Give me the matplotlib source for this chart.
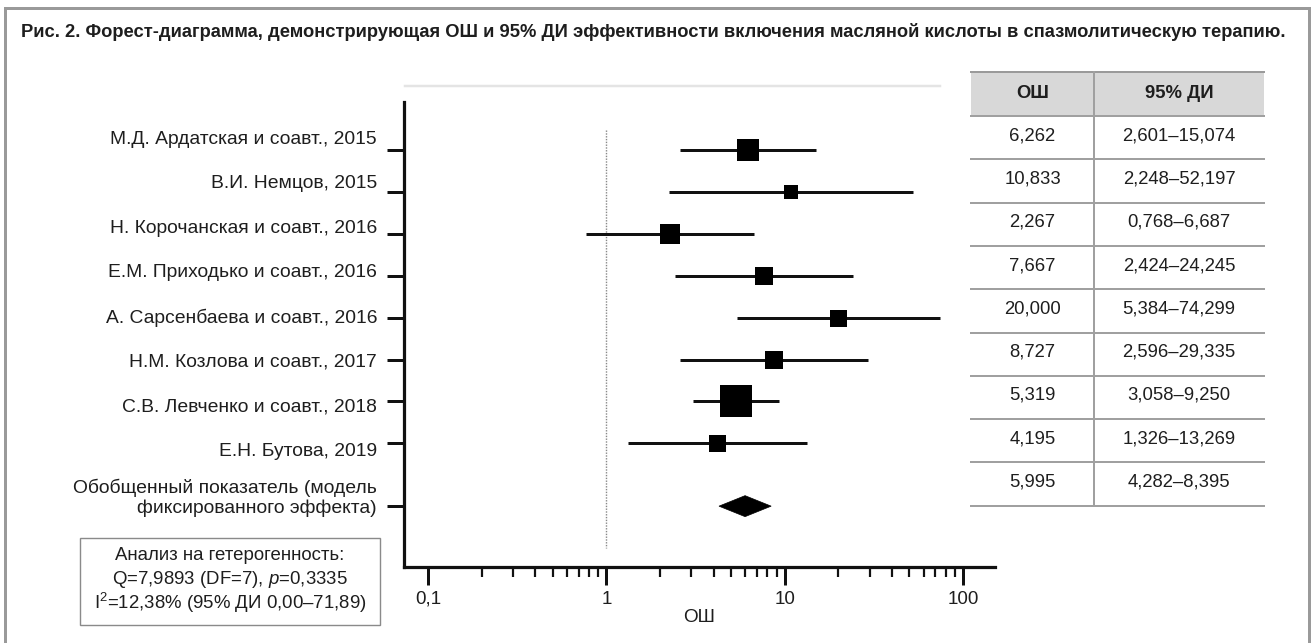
import matplotlib
matplotlib.use("Agg")
import matplotlib.pyplot as plt
import numpy as np
from matplotlib.patches import Rectangle, Polygon
from matplotlib.lines import Line2D
from matplotlib.ticker import NullFormatter, FixedLocator, FixedFormatter

plt.rcParams['font.family'] = ['Liberation Sans', 'DejaVu Sans']
plt.rcParams['mathtext.fontset'] = 'custom'
plt.rcParams['mathtext.rm'] = 'Liberation Sans'
plt.rcParams['mathtext.it'] = 'Liberation Sans:italic'

# ---------------- data ----------------
title = ("Рис. 2. Форест-диаграмма, демонстрирующая ОШ и 95% ДИ эффективности "
         "включения масляной кислоты в спазмолитическую терапию.")
studies = [
    "М.Д. Ардатская и соавт., 2015",
    "В.И. Немцов, 2015",
    "Н. Корочанская и соавт., 2016",
    "Е.М. Приходько и соавт., 2016",
    "А. Сарсенбаева и соавт., 2016",
    "Н.М. Козлова и соавт., 2017",
    "С.В. Левченко и соавт., 2018",
    "Е.Н. Бутова, 2019",
]
pooled_label = "Обобщенный показатель (модель\nфиксированного эффекта)"
or_values = [6.262, 10.833, 2.267, 7.667, 20.000, 8.727, 5.319, 4.195]
ci_low = [2.601, 2.248, 0.768, 2.424, 5.384, 2.596, 3.058, 1.326]
ci_high = [15.074, 52.197, 6.687, 24.245, 74.299, 29.335, 9.250, 13.269]
pooled_or = 5.995
pooled_low = 4.282
pooled_high = 8.395
weight_box_px = [23, 14, 20, 18, 17, 18, 32, 17]   # square side (study weight)
x_ticks = [0.1, 1, 10, 100]
x_tick_labels = ["0,1", "1", "10", "100"]
x_label = "ОШ"
table_headers = ["ОШ", "95% ДИ"]
het_lines = ["Анализ на гетерогенность:",
             "Q=7,9893 (DF=7), $p$=0,3335",
             "I$^{2}$=12,38% (95% ДИ 0,00–71,89)"]

# ---------------- layout ----------------
W, H = 1312, 643
DPI = 100
PT = 72.0 / DPI  # points per pixel
fig = plt.figure(figsize=(W / DPI, H / DPI), dpi=DPI)
fig.patch.set_facecolor("white")

def fx(px):
    return px / W

def fy(py):
    return 1 - py / H

TXT = "#1e1e1e"
LINE = "#111111"
FS_LAB = 13.9
FS_TAB = 13.3
FS_TICK = 13.6

# outer frame
fig.patches.append(Rectangle((fx(5), fy(660)), fx(1309) - fx(5), fy(8) - fy(660),
                             transform=fig.transFigure, fill=False,
                             edgecolor="#9a9a9a", linewidth=3 * PT, zorder=0))

fig.text(fx(21), fy(32), title, fontsize=13.25, fontweight="bold", color=TXT,
         ha="left", va="center")

# light top line above plot
fig.add_artist(Line2D([fx(405), fx(940)], [fy(86), fy(86)], transform=fig.transFigure,
                      color="#e4e4e4", linewidth=2.5 * PT))

# main axes
ax_l, ax_r, ax_t, ax_b = 404, 995, 102, 567
ax = fig.add_axes([fx(ax_l), fy(ax_b), fx(ax_r) - fx(ax_l), fy(ax_t) - fy(ax_b)])
ax.set_xscale("log")
ax.set_xlim(0.0734, 151)
row_px = 41.9
first_row_px = 150
ax.set_ylim((ax_b - first_row_px) / row_px, (ax_t - first_row_px) / row_px)

n = len(studies)
rows = np.arange(n)
pooled_row = n + 0.5

for sp in ["top", "right"]:
    ax.spines[sp].set_visible(False)
for sp in ["left", "bottom"]:
    ax.spines[sp].set_linewidth(3.2 * PT)
    ax.spines[sp].set_color(LINE)

# reference line at OR = 1
ax.plot([1, 1], [(130 - first_row_px) / row_px, (548 - first_row_px) / row_px],
        color="#888888", linewidth=1.4 * PT, linestyle=(0, (1, 1)), zorder=1)

for i in range(n):
    ax.plot([ci_low[i], ci_high[i]], [rows[i], rows[i]], color=LINE,
            linewidth=3 * PT, solid_capstyle="butt", zorder=2)
    ax.plot([or_values[i]], [rows[i]], marker="s", color="black",
            markersize=weight_box_px[i] * PT, markeredgewidth=0, zorder=3)

dh = 10.5 / row_px
ax.add_patch(Polygon([[pooled_low, pooled_row], [pooled_or, pooled_row - dh],
                      [pooled_high, pooled_row], [pooled_or, pooled_row + dh]],
                     closed=True, facecolor="black", edgecolor="black", linewidth=0.5))

# ticks
ax.set_yticks(list(rows) + [pooled_row])
ax.set_yticklabels([])
ax.tick_params(axis="y", direction="out", length=17 * PT, width=3 * PT, color=LINE)
ax.xaxis.set_major_locator(FixedLocator(x_ticks))
ax.xaxis.set_major_formatter(FixedFormatter(x_tick_labels))
minor = [m * d for d in x_ticks[:-1] for m in range(2, 10)]
ax.xaxis.set_minor_locator(FixedLocator(minor))
ax.xaxis.set_minor_formatter(NullFormatter())
ax.tick_params(axis="x", which="major", direction="out", length=18 * PT, width=3 * PT,
               color=LINE, labelsize=FS_TICK, labelcolor=TXT, pad=4)
ax.tick_params(axis="x", which="minor", direction="out", length=10 * PT, width=2.2 * PT,
               color=LINE)
ax.set_xlabel(x_label, fontsize=FS_TICK, color=TXT, labelpad=1)

# study labels
label_step = 44.6 / row_px
label_off = (139 - first_row_px) / row_px
for i, s in enumerate(studies):
    ax.annotate(s, xy=(0, label_off + i * label_step), xycoords=("axes fraction", "data"),
                xytext=(-27 * PT, 0), textcoords="offset points",
                ha="right", va="center", fontsize=FS_LAB, color=TXT)
ax.annotate(pooled_label, xy=(0, (498 - first_row_px) / row_px),
            xycoords=("axes fraction", "data"), xytext=(-27 * PT, 0),
            textcoords="offset points", ha="right", va="center", fontsize=FS_LAB,
            color=TXT, multialignment="right", linespacing=1.15)

# heterogeneity box
fig.patches.append(Rectangle((fx(80), fy(625)), fx(380) - fx(80), fy(538) - fy(625),
                             transform=fig.transFigure, fill=False,
                             edgecolor="#8a8a8a", linewidth=1.4 * PT))
for k, line in enumerate(het_lines):
    fig.text(fx(230), fy(556 + k * 23.5), line, ha="center", va="center",
             fontsize=13.4, color=TXT)

# table
t_l, t_m, t_r = 971, 1094, 1264
t_top, h_bot = 72, 116
r_h = 43.3
fig.patches.append(Rectangle((fx(t_l), fy(h_bot)), fx(t_r) - fx(t_l), fy(t_top) - fy(h_bot),
                             transform=fig.transFigure, facecolor="#d8d8d8",
                             edgecolor="none", zorder=0))
fig.add_artist(Line2D([fx(t_l), fx(t_r)], [fy(t_top), fy(t_top)], transform=fig.transFigure,
                      color="#9a9a9a", linewidth=2 * PT))
n_rows_tab = n + 1
t_bot = h_bot + n_rows_tab * r_h
for k in range(n_rows_tab + 1):
    yy = h_bot + k * r_h
    fig.add_artist(Line2D([fx(t_l), fx(t_r)], [fy(yy), fy(yy)], transform=fig.transFigure,
                          color="#a0a0a0", linewidth=2 * PT))
fig.add_artist(Line2D([fx(t_m), fx(t_m)], [fy(t_top), fy(t_bot)], transform=fig.transFigure,
                      color="#a0a0a0", linewidth=2 * PT))
c1 = (t_l + t_m) / 2
c2 = (t_m + t_r) / 2
fig.text(fx(c1), fy((t_top + h_bot) / 2), table_headers[0], ha="center", va="center",
         fontsize=FS_TAB, fontweight="bold", color=TXT)
fig.text(fx(c2), fy((t_top + h_bot) / 2), table_headers[1], ha="center", va="center",
         fontsize=FS_TAB, fontweight="bold", color=TXT)

def fmt(v):
    return f"{v:.3f}".replace(".", ",")

all_or = or_values + [pooled_or]
all_lo = ci_low + [pooled_low]
all_hi = ci_high + [pooled_high]
for k in range(n_rows_tab):
    yc = h_bot + k * r_h + r_h / 2 - 2
    fig.text(fx(c1), fy(yc), fmt(all_or[k]), ha="center", va="center",
             fontsize=FS_TAB, color=TXT)
    fig.text(fx(c2), fy(yc), f"{fmt(all_lo[k])}–{fmt(all_hi[k])}", ha="center",
             va="center", fontsize=FS_TAB, color=TXT)

fig.savefig("out.png", dpi=DPI, facecolor="white")
